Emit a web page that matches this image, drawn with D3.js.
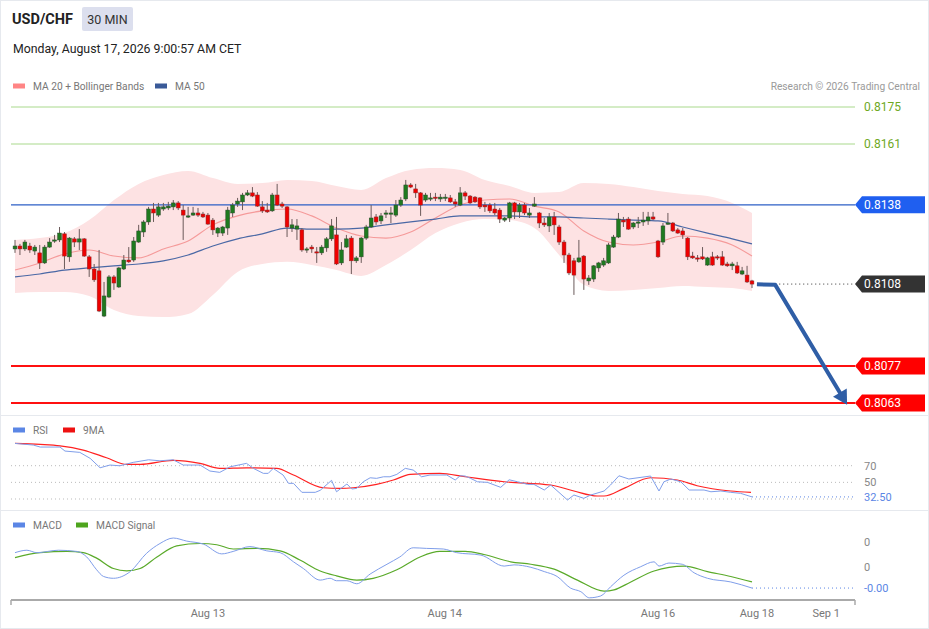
<!DOCTYPE html>
<html><head><meta charset="utf-8">
<script src="https://cdn.jsdelivr.net/npm/d3@7/dist/d3.min.js"></script>
<style>html,body{margin:0;padding:0;background:#fff}svg{display:block;font-family:Roboto,"Liberation Sans",Arial,sans-serif}</style>
</head><body><svg id="c" width="929" height="629"></svg>
<script>
// ---------- DATA ----------
const openP  = [.81213,.81224,.81213,.81224,.81205,.81198,.81160,.81220,.81243,.81247,.81270,.81183,.81251,.81239,.81251,.81183,.81137,.81130,.80959,.81031,.81107,.81069,.81137,.81171,.81171,.81239,.81277,.81315,.81364,.81341,.81364,.81368,.81372,.81387,.81360,.81334,.81341,.81349,.81345,.81341,.81322,.81273,.81273,.81292,.81349,.81383,.81391,.81417,.81425,.81417,.81372,.81360,.81357,.81417,.81383,.81372,.81292,.81288,.81285,.81209,.81220,.81202,.81198,.81217,.81251,.81266,.81160,.81220,.81254,.81168,.81183,.81254,.81296,.81334,.81319,.81345,.81345,.81341,.81379,.81402,.81455,.81440,.81425,.81398,.81402,.81409,.81402,.81406,.81406,.81391,.81379,.81425,.81413,.81409,.81406,.81379,.81379,.81364,.81360,.81322,.81330,.81387,.81353,.81379,.81341,.81375,.81349,.81311,.81300,.81334,.81296,.81239,.81190,.81168,.81164,.81186,.81092,.81099,.81141,.81152,.81160,.81220,.81258,.81322,.81326,.81296,.81311,.81315,.81319,.81334,.81243,.81239,.81307,.81311,.81285,.81281,.81254,.81186,.81179,.81183,.81152,.81183,.81183,.81183,.81156,.81149,.81149,.81118,.81114,.81092];
const highP  = [.81247,.81232,.81247,.81236,.81228,.81228,.81228,.81254,.81266,.81296,.81277,.81258,.81258,.81288,.81254,.81190,.81156,.81209,.81088,.81114,.81114,.81145,.81190,.81220,.81258,.81304,.81322,.81372,.81387,.81387,.81387,.81391,.81398,.81394,.81379,.81372,.81372,.81368,.81353,.81349,.81330,.81296,.81300,.81372,.81387,.81406,.81425,.81436,.81447,.81428,.81394,.81387,.81425,.81459,.81391,.81375,.81326,.81326,.81292,.81220,.81228,.81220,.81228,.81258,.81326,.81334,.81239,.81266,.81262,.81186,.81258,.81304,.81379,.81345,.81349,.81360,.81372,.81398,.81409,.81474,.81462,.81459,.81428,.81425,.81425,.81425,.81421,.81421,.81417,.81402,.81447,.81432,.81417,.81413,.81409,.81391,.81387,.81387,.81368,.81334,.81391,.81391,.81387,.81387,.81368,.81409,.81353,.81330,.81349,.81353,.81304,.81247,.81198,.81179,.81247,.81190,.81114,.81152,.81164,.81179,.81236,.81266,.81349,.81334,.81334,.81315,.81334,.81353,.81353,.81353,.81247,.81311,.81349,.81315,.81292,.81292,.81258,.81202,.81190,.81220,.81183,.81202,.81190,.81205,.81164,.81164,.81164,.81145,.81149,.81096];
const lowP   = [.81198,.81190,.81205,.81198,.81190,.81137,.81156,.81217,.81236,.81239,.81137,.81164,.81220,.81209,.81183,.81107,.81088,.80974,.80955,.81027,.81058,.81065,.81133,.81160,.81164,.81236,.81258,.81304,.81315,.81334,.81357,.81360,.81360,.81360,.81247,.81330,.81338,.81334,.81330,.81304,.81266,.81258,.81262,.81266,.81334,.81372,.81360,.81413,.81409,.81372,.81349,.81349,.81353,.81375,.81368,.81258,.81277,.81247,.81202,.81198,.81198,.81160,.81190,.81202,.81243,.81152,.81152,.81217,.81118,.81160,.81160,.81247,.81292,.81304,.81307,.81330,.81311,.81334,.81372,.81394,.81443,.81406,.81338,.81391,.81394,.81394,.81391,.81394,.81387,.81372,.81375,.81398,.81383,.81387,.81364,.81353,.81349,.81341,.81311,.81315,.81315,.81326,.81330,.81341,.81330,.81372,.81292,.81296,.81277,.81266,.81228,.81160,.81114,.81039,.81160,.81058,.81077,.81088,.81126,.81145,.81156,.81217,.81254,.81296,.81285,.81288,.81292,.81300,.81304,.81322,.81179,.81228,.81304,.81277,.81270,.81251,.81171,.81175,.81164,.81171,.81149,.81149,.81171,.81149,.81145,.81133,.81118,.81114,.81084,.81065];
const closeP = [.81224,.81213,.81239,.81209,.81220,.81160,.81220,.81239,.81247,.81273,.81186,.81254,.81239,.81251,.81186,.81137,.81096,.80978,.81035,.81107,.81084,.81141,.81171,.81164,.81243,.81281,.81315,.81364,.81349,.81372,.81372,.81375,.81387,.81368,.81341,.81338,.81349,.81341,.81334,.81307,.81285,.81292,.81296,.81360,.81379,.81394,.81417,.81425,.81413,.81375,.81357,.81353,.81417,.81379,.81375,.81296,.81304,.81300,.81209,.81213,.81213,.81198,.81220,.81251,.81300,.81156,.81209,.81251,.81168,.81179,.81254,.81296,.81330,.81315,.81338,.81349,.81349,.81379,.81398,.81455,.81447,.81425,.81379,.81417,.81406,.81406,.81409,.81409,.81391,.81383,.81425,.81413,.81387,.81391,.81372,.81372,.81357,.81349,.81326,.81330,.81387,.81353,.81379,.81349,.81349,.81383,.81311,.81304,.81334,.81304,.81239,.81190,.81122,.81114,.81179,.81099,.81103,.81149,.81160,.81168,.81228,.81258,.81326,.81315,.81288,.81311,.81315,.81322,.81334,.81326,.81183,.81300,.81311,.81281,.81273,.81266,.81183,.81179,.81175,.81175,.81179,.81152,.81179,.81152,.81149,.81156,.81122,.81130,.81088,.81080];

const bandIdx = [0,5,10,15,20,25,30,35,40,45,50,55,60,65,70,75,80,85,90,95,100,105,110,115,120,125,130,135,140,145,149];
const bbUpper = [.81247,.81254,.81273,.81322,.81398,.81459,.81493,.81508,.81481,.81459,.81462,.81474,.81470,.81451,.81436,.81481,.81512,.81519,.81512,.81474,.81451,.81425,.81428,.81462,.81459,.81447,.81432,.81421,.81413,.81387,.81349];
const bbLower = [.81046,.81050,.81050,.81035,.80982,.80959,.80955,.80967,.81039,.81126,.81156,.81164,.81152,.81133,.81111,.81152,.81209,.81273,.81311,.81326,.81322,.81292,.81190,.81077,.81054,.81058,.81065,.81073,.81069,.81065,.81054];
const ma20    = [.81133,.81160,.81194,.81209,.81186,.81179,.81213,.81243,.81304,.81338,.81357,.81364,.81338,.81292,.81262,.81254,.81277,.81330,.81379,.81398,.81402,.81375,.81353,.81281,.81239,.81228,.81239,.81262,.81254,.81228,.81186];
const ma50    = [.81107,.81118,.81133,.81141,.81149,.81156,.81168,.81190,.81224,.81251,.81270,.81292,.81288,.81288,.81292,.81304,.81315,.81326,.81338,.81338,.81338,.81334,.81334,.81330,.81326,.81322,.81319,.81296,.81273,.81251,.81232];

const levelPrices = [0.8175, 0.8161, 0.8138, 0.8108, 0.8077, 0.8063];
const levelLabels = ["0.8175","0.8161","0.8138","0.8108","0.8077","0.8063"];

const fcIdx   = [150, 153.7, 167.6];
const fcPrice = [0.81079, 0.81077, 0.80643];

const rsiIdx = [0,3.7,5.1,9.1,10.1,13.1,15.2,17.2,19.2,21.2,23.9,27,29.3,32,34,37.4,39.4,41.4,43.5,46.8,48.2,50.2,51.2,52.2,54.2,55.3,56.3,58,60.7,61.7,64,65,67.1,68.1,69.1,70.4,71.8,73.1,74.5,75.8,77.2,78.9,80.5,82.2,83.9,87.3,89,90,91,92.1,93.5,95.5,98.2,99.9,101.6,103.6,104.9,107,108.3,111.7,113,115,116.4,119.1,120.4,122.1,124.1,128.5,130.2,131.2,132.6,134.6,136.3,139.3,140.7,142.7,144.7,146.7,149];
const rsiVal = [96.8,94.8,92.4,92.4,87.6,86,78.8,67.5,70.8,69.9,74,77.1,75.9,77.1,70.8,70.8,63.6,62,68.7,72.8,66.8,60.8,60.8,66.8,58.8,48.8,48.8,38,38,40.4,52.4,38.7,48,42,42.8,50.7,55.5,54.8,56.7,56.7,59.6,66.8,64.8,56.7,58.8,58.8,52.8,57.9,57.6,54.8,50.7,50,44,53.1,50.7,47.6,47.6,40.8,46.8,28.8,34.8,30.8,34.8,39.6,46.8,57.9,54,57.6,39.6,50.7,54,50.7,40.8,40.8,38.7,39.6,38,36.8,32.5];
const rsiMaIdx = [0,5.1,9.1,13.8,18.5,22.6,25.3,32,37.4,41.4,46.8,52.9,56.3,62.3,65.7,68.4,73.1,76.5,79.9,85.9,91,98.9,108.3,113,117.7,119.1,123.1,128.5,133.9,137.9,144.7,148.8];
const rsiMaVal = [96.8,95.6,93.9,88.8,79.5,71.6,71.6,76.4,72.8,66.8,67.5,66.8,58.8,43.5,42.8,43.5,47.6,52.8,59.6,60.8,56.7,50.7,46.8,39.6,33.6,33.6,42.8,55.5,52.8,45.9,39.6,38];
const rsiTicks = [70, 50];
const rsiLevels = [70, 50, 30];
const rsiLast = "32.50";

const macdIdx = [0,2.4,4.4,8.8,12.5,14.5,16.5,17.9,19.9,23.3,26.6,29.3,32,34.7,38.1,41.8,44.1,47.5,50.9,53.6,56.3,58.3,61.7,63.7,65,67.1,69.1,71.8,75.2,77.8,80.5,83.2,86.6,89.3,94.2,98.9,100.9,104.3,107,109.6,112.3,114.4,116.1,118.4,120.4,123.1,126.5,129.2,130.2,132.2,134.9,137.3,140,144.7,149];
const macdVal = [.00023,.00027,.00023,.00027,.00025,.00016,-.00005,-.00016,-.00019,-.00008,.00022,.00038,.00047,.00042,.00037,.00021,.00025,.00033,.00026,.00023,.00008,-.00003,-.00022,-.00019,-.00023,-.00023,-.00028,-.00012,.00004,.00016,.00031,.00030,.00029,.00023,.00019,.00001,.00003,-.00001,-.00008,-.00016,-.00035,-.00041,-.00051,-.00048,-.00033,-.00014,0,.00008,.00001,.00006,.00004,-.00010,-.00019,-.00025,-.00035];
const sigIdx = [0,5.1,10.5,13.8,16.5,19.9,22.6,25.3,28.7,32.7,37.4,40.8,44.1,48.9,53.6,57.6,61.7,65,69.1,72.4,77.2,81.9,85.9,91,94.8,100.2,104.3,109,113.7,119.1,121.1,124.5,129.2,135.3,140,144.7,149];
const sigVal = [.00015,.00023,.00025,.00023,.00014,-.00003,-.00007,-.00003,.00016,.00034,.00038,.00036,.00029,.00030,.00026,.00011,-.00007,-.00015,-.00022,-.00019,-.00005,.00016,.00025,.00025,.00020,.00008,.00004,-.00004,-.00022,-.00040,-.00038,-.00025,-.00007,.00001,-.00008,-.00016,-.00025];
const macdTicks = [0.0004, 0];
const macdTickLabels = ["0", "0"];
const macdLast = "-0.00";

const axisIdx = [39, 86.9, 130, 150, 164];
const axisLabels = ["Aug 13", "Aug 14", "Aug 16", "Aug 18", "Sep 1"];

// ---------- DRAW ----------
const svg = d3.select("#c");
const W = 929, H = 629;
const x = d3.scaleLinear().domain([0, 149]).range([15, 752]);
const y = d3.scaleLinear().domain([0.8063, 0.8175]).range([403, 107]);
const yR = d3.scaleLinear().domain([30, 70]).range([499, 465.7]);
const yM = d3.scaleLinear().domain([0, 0.0004]).range([566.7, 542.3]);
const xL = 11, xR = 855;

// frame
svg.append("rect").attr("x",0.5).attr("y",0.5).attr("width",W-1).attr("height",H-1).attr("fill","#fff").attr("stroke","#e6e9ee");
svg.append("line").attr("x1",0).attr("x2",W).attr("y1",415.5).attr("y2",415.5).attr("stroke","#e6e9ee");
svg.append("line").attr("x1",0).attr("x2",W).attr("y1",510.5).attr("y2",510.5).attr("stroke","#e6e9ee");

// header
svg.append("text").attr("x",12).attr("y",24).attr("font-size",14.5).attr("font-weight","bold").attr("fill","#222").text("USD/CHF");
svg.append("rect").attr("x",82).attr("y",7).attr("width",51).attr("height",24).attr("rx",2).attr("fill","#dcdfee");
svg.append("text").attr("x",107.5).attr("y",24).attr("text-anchor","middle").attr("font-size",12.5).attr("fill","#333").text("30 MIN");
svg.append("text").attr("x",13).attr("y",53).attr("font-size",12.3).attr("fill","#222").text("Monday, August 17, 2026 9:00:57 AM CET");

// legends
function legend(items, yy) {
  items.forEach(it => {
    svg.append("rect").attr("x",it.x).attr("y",yy-2.5).attr("width",12).attr("height",5).attr("fill",it.c);
    svg.append("text").attr("x",it.x+20).attr("y",yy+3.6).attr("font-size",10.2).attr("fill","#777").text(it.t);
  });
}
legend([{x:13,c:"#ff8585",t:"MA 20 + Bollinger Bands"},{x:155,c:"#3a5a98",t:"MA 50"}], 86);
svg.append("text").attr("x",920).attr("y",89.6).attr("text-anchor","end").attr("font-size",10.2).attr("fill","#9a9a9a").text("Research © 2026 Trading Central");
legend([{x:13,c:"#5b86e5",t:"RSI"},{x:63,c:"#ee1111",t:"9MA"}], 430);
legend([{x:13,c:"#5b86e5",t:"MACD"},{x:76,c:"#4ea51e",t:"MACD Signal"}], 525);

// bollinger
const band = bandIdx.map((d,i)=>({i:d,u:bbUpper[i],l:bbLower[i],m:ma20[i],m50:ma50[i]}));
svg.append("path").datum(band).attr("fill","#fde2e3")
  .attr("d", d3.area().x(d=>x(d.i)).y0(d=>y(d.l)).y1(d=>y(d.u)).curve(d3.curveMonotoneX));
svg.append("path").datum(band).attr("fill","none").attr("stroke","#f59a9a").attr("stroke-width",1.1)
  .attr("d", d3.line().x(d=>x(d.i)).y(d=>y(d.m)).curve(d3.curveMonotoneX));
svg.append("path").datum(band).attr("fill","none").attr("stroke","#4a68a5").attr("stroke-width",1.2)
  .attr("d", d3.line().x(d=>x(d.i)).y(d=>y(d.m50)).curve(d3.curveMonotoneX));

// level lines
const lvlStyle = [
  {c:"#a9d98c", w:1, txt:"#6ea81e", box:null},
  {c:"#a9d98c", w:1, txt:"#6ea81e", box:null},
  {c:"#2d5fc6", w:1.2, txt:"#fff", box:"#1f5ff0"},
  {c:"#333", w:1, txt:"#fff", box:"#333333", dot:true},
  {c:"#ff1010", w:2, txt:"#fff", box:"#ff0000"},
  {c:"#ff1010", w:2, txt:"#fff", box:"#ff0000"}
];
levelPrices.forEach((p,k) => {
  const s = lvlStyle[k], yy = y(p);
  const ln = svg.append("line").attr("y1",yy).attr("y2",yy).attr("stroke",s.c).attr("stroke-width",s.w)
    .attr("x1", s.dot ? x(fcIdx[1]) : xL).attr("x2", xR);
  if (s.dot) ln.attr("stroke-dasharray","1,3");
  if (s.box) {
    svg.append("path").attr("fill",s.box)
      .attr("d",`M${xR},${yy}L${xR+7},${yy-8.5}L925,${yy-8.5}L925,${yy+8.5}L${xR+7},${yy+8.5}Z`);
  }
  svg.append("text").attr("x",864).attr("y",yy+4.3).attr("font-size",12).attr("fill",s.txt).text(levelLabels[k]);
});

// candles
const cw = 3.8;
const g = svg.append("g");
closeP.forEach((c,i) => {
  const o = openP[i], up = c >= o, cx = x(i);
  g.append("line").attr("x1",cx).attr("x2",cx).attr("y1",y(highP[i])).attr("y2",y(lowP[i])).attr("stroke","#6b5a5a").attr("stroke-width",1);
  const top = y(Math.max(o,c)), bot = y(Math.min(o,c));
  g.append("rect").attr("x",cx-cw/2).attr("y",top).attr("width",cw).attr("height",Math.max(1.2,bot-top))
    .attr("fill", up ? "#1f7a1f" : "#ee0000").attr("stroke", up ? "#2c4a2c" : "#8a2a2a").attr("stroke-width",0.5);
});

// forecast arrow
const fc = fcIdx.map((d,i)=>[x(d), y(fcPrice[i])]);
svg.append("path").datum(fc).attr("fill","none").attr("stroke","#2f5ea6").attr("stroke-width",4).attr("stroke-linejoin","round")
  .attr("d", d3.line());
{
  const [x1,y1] = fc[1], [x2,y2] = fc[2];
  const a = Math.atan2(y2-y1, x2-x1), L = 14, Wd = 8;
  const tx = x2 + Math.cos(a)*6, ty = y2 + Math.sin(a)*6;
  const bx = tx - Math.cos(a)*L, by = ty - Math.sin(a)*L;
  const px = -Math.sin(a), py = Math.cos(a);
  svg.append("path").attr("fill","#2f5ea6")
    .attr("d",`M${tx},${ty}L${bx+px*Wd},${by+py*Wd}L${bx-px*Wd},${by-py*Wd}Z`);
}

// RSI panel
rsiLevels.forEach(v => {
  svg.append("line").attr("x1",xL).attr("x2",xR).attr("y1",yR(v)).attr("y2",yR(v)).attr("stroke","#bbb").attr("stroke-dasharray","1,3");
});
rsiTicks.forEach(v => {
  svg.append("text").attr("x",864).attr("y",yR(v)+4).attr("font-size",11).attr("fill","#888").text(v);
});
const rsiPts = rsiIdx.map((d,i)=>[x(d), yR(rsiVal[i])]);
const rsiMaPts = rsiMaIdx.map((d,i)=>[x(d), yR(rsiMaVal[i])]);
svg.append("path").datum(rsiMaPts).attr("fill","none").attr("stroke","#f22").attr("stroke-width",1.2).attr("d", d3.line().curve(d3.curveMonotoneX));
svg.append("path").datum(rsiPts).attr("fill","none").attr("stroke","#7f9eea").attr("stroke-width",1).attr("d", d3.line());
const rLast = rsiPts[rsiPts.length-1];
svg.append("line").attr("x1",rLast[0]).attr("x2",xR).attr("y1",rLast[1]).attr("y2",rLast[1]).attr("stroke","#5b86e5").attr("stroke-dasharray","1,3");
svg.append("text").attr("x",864).attr("y",rLast[1]+4).attr("font-size",11).attr("fill","#5b86e5").text(rsiLast);

// MACD panel
macdTicks.forEach((v,k) => {
  svg.append("text").attr("x",864).attr("y",yM(v)+4).attr("font-size",11).attr("fill","#888").text(macdTickLabels[k]);
});
const sigPts = sigIdx.map((d,i)=>[x(d), yM(sigVal[i])]);
const macdPts = macdIdx.map((d,i)=>[x(d), yM(macdVal[i])]);
svg.append("path").datum(sigPts).attr("fill","none").attr("stroke","#5aaa2a").attr("stroke-width",1.2).attr("d", d3.line().curve(d3.curveMonotoneX));
svg.append("path").datum(macdPts).attr("fill","none").attr("stroke","#7f9eea").attr("stroke-width",1).attr("d", d3.line().curve(d3.curveMonotoneX));
const mLast = macdPts[macdPts.length-1];
svg.append("line").attr("x1",mLast[0]).attr("x2",xR).attr("y1",mLast[1]).attr("y2",mLast[1]).attr("stroke","#5b86e5").attr("stroke-dasharray","1,3");
svg.append("text").attr("x",864).attr("y",mLast[1]+4).attr("font-size",11).attr("fill","#5b86e5").text(macdLast);

// x axis
const ax = svg.append("g").attr("transform","translate(0,600)");
const xa = d3.scaleLinear().domain([x.invert(xL), x.invert(xR)]).range([xL, xR]);
ax.append("line").attr("x1",xL).attr("x2",xR).attr("y1",0).attr("y2",0).attr("stroke","#aaa").attr("stroke-width",2);
[xL, xR].forEach(v => ax.append("line").attr("x1",v).attr("x2",v).attr("y1",0).attr("y2",5).attr("stroke","#aaa").attr("stroke-width",1.5));
axisIdx.forEach((d,k) => {
  ax.append("text").attr("x",xa(d)).attr("y",16.5).attr("text-anchor","middle").attr("font-size",11).attr("fill","#777").text(axisLabels[k]);
});
</script></body></html>
